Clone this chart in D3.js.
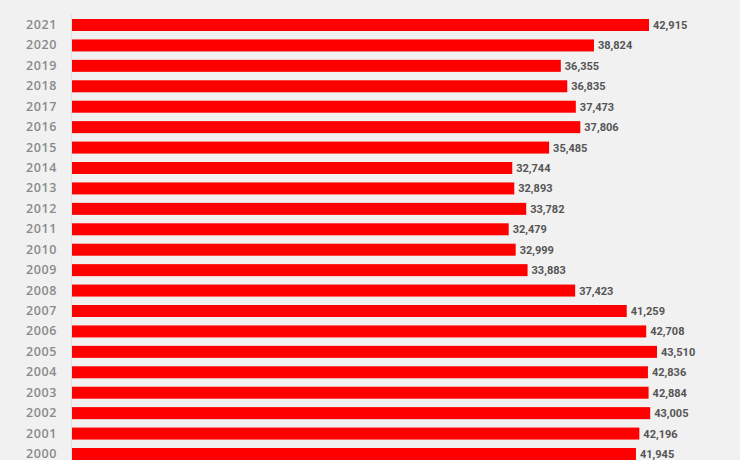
<!DOCTYPE html>
<html>
<head>
<meta charset="utf-8">
<script src="https://cdn.jsdelivr.net/npm/d3@7"></script>
<style>
  html, body { margin: 0; padding: 0; background: #f1f1f1; overflow: hidden; }
</style>
</head>
<body>
<div id="chart"></div>
<script>
// years top to bottom, with matching values
const years = ["2021", "2020", "2019", "2018", "2017", "2016", "2015", "2014", "2013", "2012", "2011",
               "2010", "2009", "2008", "2007", "2006", "2005", "2004", "2003", "2002", "2001", "2000"];
const values = [42915, 38824, 36355, 36835, 37473, 37806, 35485, 32744, 32893, 33782, 32479,
                32999, 33883, 37423, 41259, 42708, 43510, 42836, 42884, 43005, 42196, 41945];

const width = 740, height = 460;
const svg = d3.select("#chart").append("svg")
    .attr("width", width)
    .attr("height", height)
    .style("display", "block")
    .style("background", "#f1f1f1");

const x = d3.scaleLinear()
    .domain([0, 42915])
    .range([72, 649]);

const y = d3.scaleBand()
    .domain(years)
    .range([19, 460])
    .paddingInner(0.4126)
    .paddingOuter(0);

const data = years.map((yr, i) => ({ year: yr, value: values[i] }));

// faint axis line
svg.append("line")
    .attr("x1", 71.5).attr("x2", 71.5)
    .attr("y1", 14).attr("y2", height)
    .attr("stroke", "#e0e0e0")
    .attr("stroke-width", 1);

svg.selectAll("rect.bar")
    .data(data)
    .enter().append("rect")
    .attr("class", "bar")
    .attr("x", x(0))
    .attr("y", d => y(d.year))
    .attr("width", d => x(d.value) - x(0))
    .attr("height", y.bandwidth())
    .attr("fill", "#ff0000");

// year labels
const yAxis = d3.axisLeft(y).tickSize(0).tickPadding(0);
const gy = svg.append("g")
    .attr("transform", "translate(57,0)")
    .call(yAxis);
gy.select(".domain").remove();
gy.selectAll("text")
    .attr("fill", "#8a8a8a")
    .style("font-family", "'Open Sans', sans-serif")
    .style("font-size", "12.5px")
    .style("font-weight", "600")
    .style("letter-spacing", "0.6px");

// value labels
svg.selectAll("text.val")
    .data(data)
    .enter().append("text")
    .attr("class", "val")
    .attr("x", d => x(d.value) + 4)
    .attr("y", d => y(d.year) + y.bandwidth() / 2)
    .attr("dy", "0.36em")
    .attr("fill", "#555")
    .style("font-family", "Roboto, sans-serif")
    .style("font-size", "11px")
    .style("font-weight", "700")
    .text(d => d3.format(",")(d.value));
</script>
</body>
</html>
